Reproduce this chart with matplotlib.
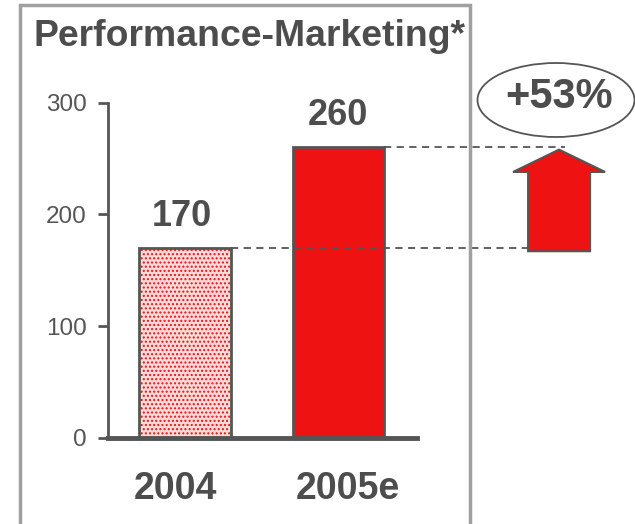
import matplotlib
matplotlib.use("Agg")
import matplotlib.pyplot as plt
import matplotlib.patches as patches
import matplotlib.transforms as mtransforms

plt.rcParams['font.family'] = ['Liberation Sans', 'DejaVu Sans']

years = ['2004', '2005e']
values = [170, 260]
yticks = [0, 100, 200, 300]
growth_label = '+53%'
title = 'Performance-Marketing*'

grey = '#555555'
red = '#ee1212'

fig = plt.figure(figsize=(6.35, 5.24), dpi=100)
ax = fig.add_axes([0.1701, 0.1647, 0.4866, 0.6393])

x = list(range(len(years)))
w = 0.595

# 2004 bar: dotted pink, 2005e: solid red
ax.bar(x[0], values[0], width=w, color='#ffdada', edgecolor=red,
       hatch='....', linewidth=0, zorder=2)
ax.bar(x[1], values[1], width=w, color=red, linewidth=0, zorder=2)
ax.bar(x, values, width=w, fill=False, edgecolor=grey, linewidth=2, zorder=3)

ax.set_xlim(-0.503, 1.516)
ax.set_ylim(0, 300)
ax.set_yticks(yticks)
ax.set_xticks(x)
ax.set_xticklabels(years, fontsize=27, fontweight='bold', color='#4d4d4d')
ax.tick_params(axis='x', length=0, pad=24)
ax.tick_params(axis='y', length=7.2, width=2, color=grey, pad=8,
               labelsize=17.5, labelcolor=grey)
# labels sit a bit off the bar centres in the original
shifts = [-9, 10]
for lab, dx in zip(ax.get_xticklabels(), shifts):
    lab.set_transform(lab.get_transform() +
                      mtransforms.ScaledTranslation(dx / 100, 0, fig.dpi_scale_trans))

for s in ['top', 'right']:
    ax.spines[s].set_visible(False)
ax.spines['left'].set_color(grey)
ax.spines['left'].set_linewidth(2)
ax.spines['bottom'].set_color(grey)
ax.spines['bottom'].set_linewidth(3.5)
ax.patch.set_visible(False)

# value labels
for xi, v in zip(x, values):
    ax.annotate(str(v), (xi, v), xytext=(-2 if xi == 0 else 0, 15.8),
                textcoords='offset points', ha='center', va='baseline',
                fontsize=26, fontweight='bold', color='#4d4d4d')

# dashed guide lines out to the arrow
ax.plot([x[0] + w / 2, 2.242], [values[0], values[0]], ls=(0, (4, 3)),
        color=grey, lw=1.3, clip_on=False)
ax.plot([x[1] + w / 2, 2.484], [values[1], values[1]], ls=(0, (4, 3)),
        color=grey, lw=1.3, clip_on=False)

# growth arrow
head_base = values[1] - 22
arrow = patches.Polygon([(2.242, values[0] - 3), (2.647, values[0] - 3),
                         (2.647, head_base), (2.745, head_base),
                         (2.444, values[1] - 2), (2.144, head_base),
                         (2.242, head_base)],
                        closed=True, facecolor=red, edgecolor=grey, lw=1.5,
                        clip_on=False, zorder=4)
ax.add_patch(arrow)

# ellipse with growth label
ell = patches.Ellipse((556 / 635, 1 - 100 / 524), 157 / 635, 74 / 524,
                      transform=fig.transFigure, fill=False, edgecolor=grey,
                      lw=1.3)
fig.patches.append(ell)
fig.text(559 / 635, 1 - 97 / 524, growth_label, ha='center', va='center',
         fontsize=30, fontweight='bold', color='#4d4d4d')

# grey frame
frame = patches.Rectangle((20 / 635, -0.05), 450 / 635, 1.05 - 5 / 524,
                          transform=fig.transFigure, fill=False,
                          edgecolor='#a0a0a0', lw=2.5)
fig.patches.append(frame)

fig.text(33 / 635, 1 - 37 / 524, title, ha='left', va='center',
         fontsize=26.9, fontweight='bold', color='#4d4d4d')

fig.savefig('out.png', dpi=100)
